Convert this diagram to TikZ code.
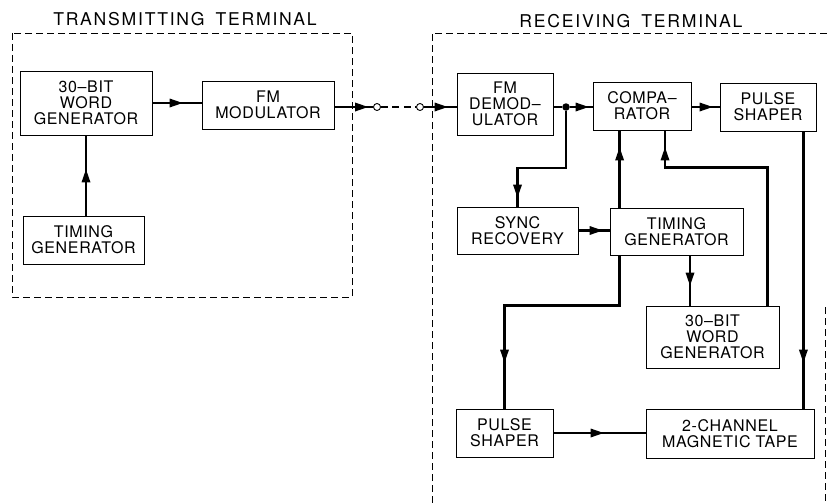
\documentclass[tikz,border=0pt]{standalone}
\usepackage{fontspec}
\setmainfont{TeX Gyre Heros}
\newfontfamily\titlefont[LetterSpace=10]{TeX Gyre Heros}
\newfontfamily\boxfont[LetterSpace=4]{TeX Gyre Heros}
\usetikzlibrary{arrows.meta,decorations.markings}
\tikzset{
  blk/.style={draw, line width=0.8pt, inner sep=0pt, align=center,
    font=\boxfont\fontsize{16}{16}\selectfont},
  ttl/.style={inner sep=0pt, font=\titlefont\fontsize{17.6}{18}\selectfont},
  wire/.style={line width=2.8pt},
  tip at/.style={postaction={decorate,decoration={markings,
    mark=at position #1 with {\fill[line width=0pt] (1pt,0pt) -- (-12pt,4.5pt) -- (-12pt,-4.5pt) -- cycle;}}}},
  frame/.style={line width=0.9pt, dash pattern=on 7pt off 4pt},
  term/.style={circle, draw, line width=0.9pt, inner sep=0pt, minimum size=7pt, fill=white},
  dot/.style={circle, fill, inner sep=0pt, minimum size=7.5pt},
}
\begin{document}
\begin{tikzpicture}[x=1pt,y=-1pt]
\useasboundingbox (0,0) rectangle (827,503);
% frames
\draw[frame] (12,33) rectangle (352,297);
\draw[frame] (432,503) -- (432,33) -- (827,33);
\draw[frame] (825.5,307) -- (825.5,503);
\node[ttl] (tt) at (185,19.5) {TRANSMITTING\hspace{11pt}TERMINAL};
\node[ttl] (rt) at (631,21.5) {RECEIVING\hspace{11pt}TERMINAL};
% transmitting blocks
\node[blk, minimum width=132pt, minimum height=64pt] (tw) at (86,103) {30–BIT\\WORD\\GENERATOR};
\node[blk, minimum width=132pt, minimum height=48pt] (fmm) at (268,105) {FM\\MODULATOR};
\node[blk, minimum width=121pt, minimum height=48pt] (ttg) at (83.5,240) {TIMING\\GENERATOR};
% link terminals
\node[term] (c1) at (377,107) {};
\node[term] (c2) at (420,107) {};
% receiving blocks
\node[blk, minimum width=96pt, minimum height=62pt] (fmd) at (505,104) {FM\\DEMOD–\\ULATOR};
\node[blk, minimum width=98pt, minimum height=48pt] (cmp) at (642,106) {COMPA–\\RATOR};
\node[blk, minimum width=96pt, minimum height=48pt] (ps1) at (768,107) {PULSE\\SHAPER};
\node[blk, minimum width=121pt, minimum height=47pt] (sync) at (517.5,230.5) {SYNC\\RECOVERY};
\node[blk, minimum width=133pt, minimum height=47pt] (rtg) at (676.5,231.5) {TIMING\\GENERATOR};
\node[blk, minimum width=133pt, minimum height=62pt] (rwg) at (712.5,337) {30–BIT\\WORD\\GENERATOR};
\node[blk, minimum width=97pt, minimum height=48pt] (ps2) at (504.5,433) {PULSE\\SHAPER};
\node[blk, minimum width=168pt, minimum height=49pt] (tape) at (730,433.5) {2-CHANNEL\\MAGNETIC TAPE};
\node[dot] (j) at (566,107) {};
% wires transmitting
\draw[wire, tip at=-35pt] (tw.south |- ttg.north) -- (tw.south);
\draw[wire, tip at=-20pt] (tw.east) -- (tw.east -| fmm.west);
\draw[wire, tip at=-6pt] (fmm.east |- c1) -- (c1.west);
\draw[line width=1.8pt, dash pattern=on 7pt off 4.5pt] (c1.east) -- (c2.west);
\draw[wire, tip at=-10pt] (c2.east) -- (c2.east -| fmd.west);
% wires receiving
\draw[wire] (fmd.east |- j) -- (j);
\draw[wire, tip at=-5pt] (j) -- (j -| cmp.west);
\draw[wire, tip at=-10pt] (j) -- ++(0,61) -| (sync.north);
\draw[wire, tip at=-8pt] (cmp.east |- j) -- (j -| ps1.west);
\draw[wire, tip at=-8pt] (sync.east) -- (sync.east -| rtg.west);
\draw[wire, tip at=-18pt] ([xshift=10pt]rtg.north west) -- ([xshift=10pt]rtg.north west |- cmp.south);
\draw[wire, tip at=-18pt] ([xshift=-12pt]rwg.north east) -- ++(0,-138) -| ([xshift=23pt]cmp.south);
\draw[wire, tip at=-21pt] ([xshift=13.5pt]rtg.south) -- ([xshift=13.5pt]rtg.south |- rwg.north);
\draw[wire, tip at=-47pt] ([xshift=10pt]rtg.south west) -- ++(0,50) -| (ps2.north);
\draw[wire, tip at=-47pt] ([xshift=-13pt]ps1.south east) -- ([xshift=-13pt]ps1.south east |- tape.north);
\draw[wire, tip at=-43pt] (ps2.east) -- (ps2.east -| tape.west);
\end{tikzpicture}
\end{document}
